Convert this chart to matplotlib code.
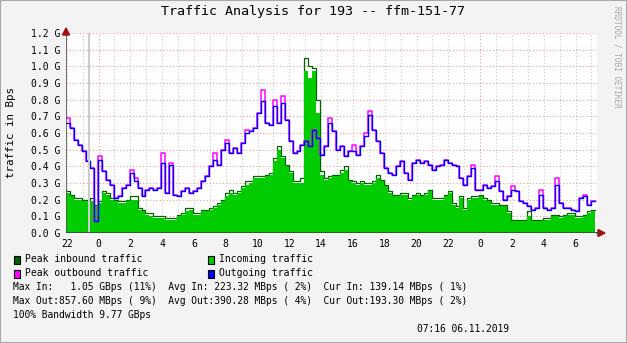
"""
Traffic graph for port 193 on ffm-151-77, drawn rrdtool-style.
"""

import numpy as np
import matplotlib
matplotlib.use("Agg")
import matplotlib.pyplot as plt
from matplotlib.patches import Rectangle

W, H = 627, 343

# 15 minute samples, hours relative to the first midnight
start_hour = -2.05
step_hours = 0.25

incoming = [
    0.24, 0.22, 0.20, 0.20, 0.19, 0.19, 0.19, 0.16, 0.18, 0.24,
    0.23, 0.20, 0.19, 0.18, 0.18, 0.19, 0.20, 0.20, 0.14, 0.13,
    0.11, 0.10, 0.09, 0.09, 0.09, 0.08, 0.08, 0.08, 0.10, 0.11,
    0.13, 0.14, 0.11, 0.11, 0.13, 0.13, 0.14, 0.15, 0.17, 0.19,
    0.22, 0.24, 0.23, 0.24, 0.27, 0.29, 0.30, 0.33, 0.33, 0.33,
    0.34, 0.35, 0.43, 0.50, 0.45, 0.40, 0.36, 0.30, 0.30, 0.30,
    0.97, 0.93, 0.97, 0.72, 0.35, 0.32, 0.33, 0.34, 0.34, 0.36,
    0.38, 0.31, 0.30, 0.29, 0.30, 0.29, 0.29, 0.30, 0.33, 0.31,
    0.28, 0.24, 0.22, 0.22, 0.23, 0.23, 0.20, 0.22, 0.23, 0.22,
    0.23, 0.25, 0.20, 0.20, 0.20, 0.22, 0.24, 0.17, 0.15, 0.21,
    0.14, 0.20, 0.21, 0.21, 0.22, 0.20, 0.19, 0.17, 0.17, 0.16,
    0.16, 0.12, 0.07, 0.07, 0.07, 0.07, 0.10, 0.07, 0.07, 0.07,
    0.08, 0.08, 0.10, 0.10, 0.09, 0.10, 0.11, 0.11, 0.09, 0.09,
    0.10, 0.12, 0.13,
]

peak_in = [
    0.25, 0.23, 0.21, 0.21, 0.20, 0.20, 0.21, 0.17, 0.19, 0.25,
    0.24, 0.21, 0.20, 0.19, 0.19, 0.20, 0.22, 0.22, 0.15, 0.14,
    0.12, 0.12, 0.10, 0.10, 0.10, 0.09, 0.09, 0.09, 0.11, 0.12,
    0.15, 0.15, 0.12, 0.12, 0.14, 0.14, 0.15, 0.16, 0.18, 0.20,
    0.24, 0.26, 0.24, 0.25, 0.28, 0.31, 0.31, 0.34, 0.34, 0.34,
    0.35, 0.36, 0.45, 0.52, 0.46, 0.41, 0.37, 0.31, 0.31, 0.33,
    1.05, 1.00, 0.99, 0.80, 0.37, 0.33, 0.34, 0.35, 0.35, 0.38,
    0.40, 0.32, 0.31, 0.30, 0.31, 0.30, 0.30, 0.31, 0.35, 0.32,
    0.29, 0.25, 0.23, 0.23, 0.24, 0.24, 0.21, 0.23, 0.24, 0.23,
    0.24, 0.26, 0.21, 0.21, 0.21, 0.23, 0.25, 0.18, 0.16, 0.22,
    0.15, 0.21, 0.22, 0.22, 0.23, 0.21, 0.20, 0.18, 0.18, 0.17,
    0.17, 0.13, 0.08, 0.08, 0.08, 0.08, 0.13, 0.08, 0.08, 0.08,
    0.09, 0.09, 0.11, 0.11, 0.10, 0.11, 0.12, 0.12, 0.10, 0.10,
    0.11, 0.13, 0.14,
]

outgoing = [
    0.66, 0.63, 0.56, 0.53, 0.49, 0.43, 0.39, 0.07, 0.44, 0.37,
    0.32, 0.29, 0.21, 0.22, 0.27, 0.29, 0.36, 0.31, 0.27, 0.22,
    0.26, 0.27, 0.26, 0.27, 0.42, 0.24, 0.41, 0.23, 0.22, 0.25,
    0.27, 0.24, 0.25, 0.27, 0.31, 0.34, 0.40, 0.44, 0.41, 0.50,
    0.54, 0.48, 0.51, 0.48, 0.54, 0.60, 0.61, 0.63, 0.72, 0.79,
    0.66, 0.65, 0.76, 0.66, 0.78, 0.68, 0.55, 0.48, 0.49, 0.53,
    0.55, 0.52, 0.62, 0.57, 0.47, 0.52, 0.66, 0.61, 0.50, 0.52,
    0.46, 0.49, 0.49, 0.47, 0.52, 0.58, 0.71, 0.62, 0.55, 0.48,
    0.39, 0.36, 0.35, 0.40, 0.43, 0.36, 0.32, 0.42, 0.44, 0.42,
    0.43, 0.41, 0.38, 0.40, 0.41, 0.44, 0.42, 0.41, 0.40, 0.33,
    0.29, 0.34, 0.39, 0.26, 0.26, 0.29, 0.27, 0.28, 0.31, 0.25,
    0.20, 0.22, 0.26, 0.25, 0.19, 0.18, 0.16, 0.14, 0.15, 0.23,
    0.15, 0.14, 0.15, 0.29, 0.18, 0.15, 0.15, 0.14, 0.13, 0.21,
    0.22, 0.17, 0.19,
]

peak_out = [
    0.69, 0.63, 0.56, 0.53, 0.49, 0.43, 0.39, 0.07, 0.46, 0.37,
    0.32, 0.29, 0.21, 0.22, 0.27, 0.29, 0.38, 0.33, 0.27, 0.22,
    0.26, 0.27, 0.26, 0.27, 0.48, 0.24, 0.42, 0.23, 0.22, 0.25,
    0.27, 0.24, 0.25, 0.27, 0.31, 0.34, 0.40, 0.48, 0.41, 0.50,
    0.56, 0.48, 0.51, 0.48, 0.54, 0.62, 0.61, 0.63, 0.72, 0.86,
    0.66, 0.65, 0.80, 0.66, 0.82, 0.68, 0.55, 0.48, 0.49, 0.53,
    0.55, 0.52, 0.62, 0.57, 0.47, 0.52, 0.69, 0.61, 0.50, 0.52,
    0.46, 0.49, 0.53, 0.47, 0.52, 0.60, 0.73, 0.62, 0.55, 0.48,
    0.39, 0.36, 0.35, 0.40, 0.43, 0.36, 0.32, 0.42, 0.44, 0.42,
    0.43, 0.41, 0.38, 0.40, 0.41, 0.44, 0.42, 0.41, 0.40, 0.33,
    0.29, 0.34, 0.41, 0.26, 0.26, 0.29, 0.27, 0.28, 0.34, 0.25,
    0.20, 0.22, 0.28, 0.25, 0.19, 0.18, 0.16, 0.14, 0.15, 0.26,
    0.15, 0.14, 0.15, 0.33, 0.18, 0.15, 0.15, 0.14, 0.13, 0.21,
    0.23, 0.17, 0.19,
]

hour_ticks = [-2, 0, 2, 4, 6, 8, 10, 12, 14, 16, 18, 20, 22, 24, 26, 28, 30]
hour_labels = ["22", "0", "2", "4", "6", "8", "10", "12", "14", "16",
               "18", "20", "22", "0", "2", "4", "6"]
gbps_ticks = [0.0, 0.1, 0.2, 0.3, 0.4, 0.5, 0.6, 0.7, 0.8, 0.9, 1.0, 1.1, 1.2]

legend_rows = [
    ("Peak inbound traffic", "#006600", "Incoming traffic", "#00cc00"),
    ("Peak outbound traffic", "#ff00ff", "Outgoing traffic", "#0000ff"),
]
stats_lines = [
    "Max In:   1.05 GBps (11%)  Avg In: 223.32 MBps ( 2%)  Cur In: 139.14 MBps ( 1%)",
    "Max Out:857.60 MBps ( 9%)  Avg Out:390.28 MBps ( 4%)  Cur Out:193.30 MBps ( 2%)",
    "100% Bandwidth 9.77 GBps",
]
timestamp = "07:16 06.11.2019"

MONO = "DejaVu Sans Mono"
plt.rcParams["font.family"] = MONO


def px(x, y):
    """pixel position -> figure fraction"""
    return x / W, 1 - y / H


def stepped(values):
    t = start_hour + step_hours * np.arange(len(values) + 1)
    return t, np.append(values, values[-1])


fig = plt.figure(figsize=(W / 100, H / 100), dpi=100, facecolor="#f3f3f3")

# shaded frame round the whole image
fig.add_artist(Rectangle((0, 0), 1, 1, transform=fig.transFigure, fill=False,
                         edgecolor="#a8a8a8", linewidth=1.5))

left, right, top, bottom = 66, 597, 33, 233
ax = fig.add_axes([left / W, 1 - bottom / H, (right - left) / W, (bottom - top) / H])
ax.set_facecolor("white")
ax.set_xlim(-2.05, 31.35)
ax.set_ylim(0, 1.2)

# grid: gray every hour, red at midnight and every 0.1 G
for h in range(-2, 32):
    col = "#e89a9a" if h % 24 == 0 else "#c8c8c8"
    ax.axvline(h, color=col, linestyle=(0, (1, 2)), linewidth=0.8, zorder=1)
for g in gbps_ticks[1:]:
    ax.axhline(g, color="#e89a9a", linestyle=(0, (1, 2)), linewidth=0.8, zorder=1)

t, v = stepped(peak_in)
ax.step(t, v, where="post", color="#006600", linewidth=0.9, zorder=2)
t, v = stepped(incoming)
ax.fill_between(t, v, step="post", color="#00cc00", linewidth=0, zorder=3)
t, v = stepped(peak_out)
ax.step(t, v, where="post", color="#ff00ff", linewidth=1.1, zorder=4)
t, v = stepped(outgoing)
ax.step(t, v, where="post", color="#0000ff", linewidth=1.0, zorder=5)

# unknown data slot
ax.axvspan(-0.65, -0.53, color="#cccccc", linewidth=0, zorder=6)

for s in ax.spines.values():
    s.set_visible(False)
ax.axvline(-2.05, color="#505050", linewidth=1.2, zorder=7)
ax.axhline(0, color="#404040", linewidth=1.2, zorder=7)
ax.set_xticks(hour_ticks, hour_labels)
ax.set_yticks(gbps_ticks, ["%.1f G" % g for g in gbps_ticks])
ax.tick_params(length=0, labelsize=7, colors="black", pad=4)

# axis arrows
fig.add_artist(plt.Polygon([px(62.5, 35), px(69.5, 35), px(66, 28)],
                           color="#a01010", transform=fig.transFigure))
fig.add_artist(plt.Polygon([px(598, 229.5), px(598, 236.5), px(605, 233)],
                           color="#a01010", transform=fig.transFigure))
fig.add_artist(plt.Line2D([px(597, 0)[0], px(599, 0)[0]], [px(0, 233)[1]] * 2,
                          color="#404040", linewidth=1.2))

fig.text(*px(313, 12), "Traffic Analysis for 193 -- ffm-151-77",
         ha="center", va="center", fontsize=9.6)
fig.text(*px(11, 133), "traffic in Bps", rotation=90,
         ha="center", va="center", fontsize=7.8)
fig.text(*px(617, 6), "RRDTOOL / TOBI OETIKER", rotation=270,
         ha="center", va="top", fontsize=5.6, color="#a8a8a8")

for i, (lab1, col1, lab2, col2) in enumerate(legend_rows):
    y = 259.5 + 14 * i
    for bx, lab, col in ((13.5, lab1, col1), (207.5, lab2, col2)):
        x0, y0 = px(bx, y + 4)
        fig.add_artist(Rectangle((x0, y0), 6 / W, 8 / H, transform=fig.transFigure,
                                 facecolor=col, edgecolor="black", linewidth=0.8))
        fig.text(*px(bx + 11.5, y), lab, ha="left", va="center", fontsize=7)

for i, line in enumerate(stats_lines):
    fig.text(*px(13, 287.5 + 14 * i), line, ha="left", va="center", fontsize=6.95)
fig.text(*px(509, 329.5), timestamp, ha="right", va="center", fontsize=6.95)

fig.savefig("out.png", dpi=100, facecolor=fig.get_facecolor())
